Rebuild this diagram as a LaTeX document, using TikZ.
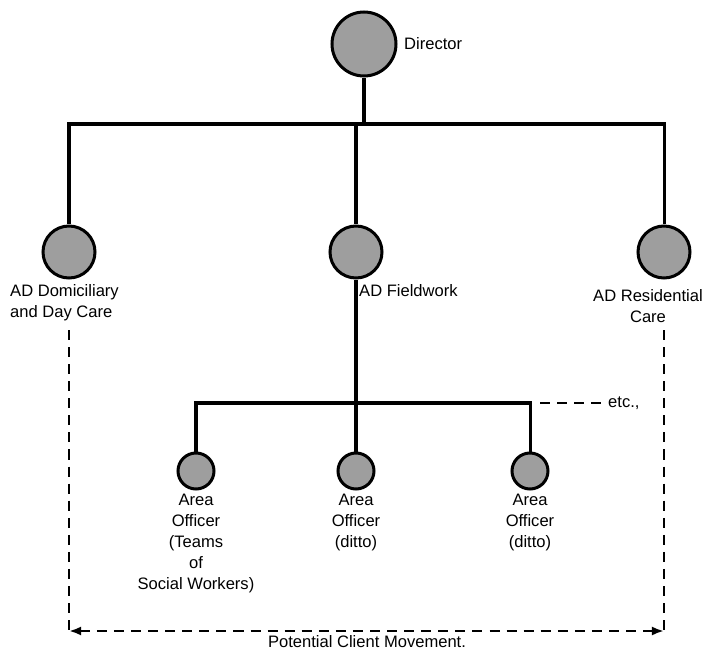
\documentclass[tikz,border=0pt]{standalone}
\usepackage{fontspec}
\setmainfont{Liberation Sans}
\usetikzlibrary{arrows.meta}
\begin{document}
\begin{tikzpicture}[x=0.035cm,y=-0.035cm,
  post/.style={circle,draw=black,line width=3pt,fill=black!38,inner sep=0pt,minimum size=#1},
  link/.style={line width=3pt},
  flow/.style={line width=2.4pt,dash pattern=on 10pt off 7pt},
  lbl/.style={font=\fontsize{16.5}{21}\selectfont,align=center,inner sep=0pt}]
\useasboundingbox (0,0) rectangle (712,649);

% heads of the organisation
\node[post=2.24cm] (dir) at (364,44) {};
\node[post=1.82cm] (dom) at (69,252) {};
\node[post=1.82cm] (fld) at (356,252) {};
\node[post=1.82cm] (res) at (664,252) {};

% area officers
\node[post=1.26cm] (ao1) at (196,471) {};
\node[post=1.26cm] (ao2) at (356,471) {};
\node[post=1.26cm] (ao3) at (530,471) {};

% labels
\node[lbl,anchor=west] (tdir) at (404,44) {Director};
\node[lbl,anchor=north west,align=left] (tdom) at (10,284) {AD Domiciliary\\and Day Care};
\node[lbl,anchor=north west] (tfld) at (359,284) {AD Fieldwork};
\node[lbl,anchor=north] (tres) at (648,289) {AD Residential\\Care};
\node[lbl,anchor=north] (t1) at (196,494) {Area\\Officer\\(Teams\\of\\Social Workers)};
\node[lbl,anchor=north] (t2) at (356,494) {Area\\Officer\\(ditto)};
\node[lbl,anchor=north] (t3) at (530,494) {Area\\Officer\\(ditto)};
\node[lbl,anchor=west] (tetc) at (608,403) {etc.,};
\node[lbl,anchor=base] (tmove) at (367,647) {Potential Client Movement.};

% line of command
\coordinate (top) at (364,124);
\coordinate (mid) at (356,403);
\draw[link] (dir.south) -- (top);
\draw[link,line join=miter] (dom.north) |- (top) -| (res.north);
\draw[link] (top -| fld.north) -- (fld.north);
\draw[link] (fld.south) -- (mid);
\draw[link,line join=miter] (ao1.north) |- (mid) -| (ao3.north);
\draw[link] (mid) -- (ao2.north);
\draw[flow] ([xshift=0.35cm]mid -| ao3.north) -- ([xshift=-0.2cm]tetc.west);

% movement of clients between the services
\coordinate (bl) at (69,631);
\coordinate (br) at (664,631);
\draw[flow] (69,330) -- (bl);
\draw[flow] (664,330) -- (br);
\draw[flow,{Latex[length=12pt,width=9pt]}-{Latex[length=12pt,width=9pt]}] (bl) -- (br);
\end{tikzpicture}
\end{document}
